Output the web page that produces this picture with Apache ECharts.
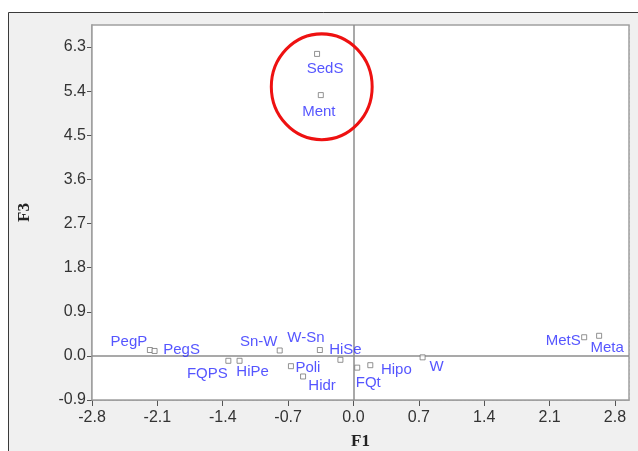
<!DOCTYPE html>
<html>
<head>
<meta charset="utf-8">
<script src="https://cdn.jsdelivr.net/npm/echarts@6/dist/echarts.min.js"></script>
<style>
  html, body { margin: 0; padding: 0; background: #ffffff; }
  #chart { width: 638px; height: 451px; }
</style>
</head>
<body>
<div id="chart"></div>
<script>
// Sample scores on factors F1 and F3
const samples = ['SedS', 'Ment', 'PegP', 'PegS', 'FQPS', 'HiPe', 'Sn-W', 'W-Sn', 'HiSe', 'Poli', 'Hidr', 'FQt', 'Hipo', 'W', 'MetS', 'Meta'];
const f1Scores = [-0.39, -0.35, -2.18, -2.13, -1.34, -1.22, -0.79, -0.36, -0.14, -0.67, -0.54, 0.04, 0.18, 0.74, 2.47, 2.63];
const f3Scores = [6.16, 5.32, 0.12, 0.10, -0.10, -0.10, 0.11, 0.12, -0.08, -0.21, -0.42, -0.24, -0.19, -0.03, 0.38, 0.41];

// Axis ranges and tick steps
const f1Range = [-2.8, 2.95];
const f1Step = 0.7;
const f3Range = [-0.9, 6.75];
const f3Step = 0.9;

// Highlighted group (ellipse centre and radii in factor units)
const groupCentre = [-0.34, 5.49];
const groupRadius = [0.54, 1.08];

// Label placement (pixel offset of each label centre from its marker)
const labelOffsets = [
  [8, 15], [-2, 17], [-21, -8], [27, -1], [-21, 13], [13, 11], [-21, -9], [-14, -12],
  [5, -10], [17, 2], [19, 9], [11, 15], [26, 5], [14, 10], [-21, 4], [8, 12]
];

const chart = echarts.init(document.getElementById('chart'));

function tickText(step) {
  return function (v) {
    const k = Math.round(v / step);
    if (Math.abs(k * step - v) > 1e-6) return '';
    return (k * step).toFixed(1);
  };
}

const points = samples.map((name, i) => ({
  name: name,
  value: [f1Scores[i], f3Scores[i]],
  label: { offset: labelOffsets[i] }
}));

chart.setOption({
  animation: false,
  backgroundColor: '#ffffff',
  grid: {
    left: 92, right: 9, top: 25, bottom: 51,
    outerBoundsMode: 'none',
    containLabel: false,
    show: true,
    backgroundColor: '#ffffff',
    borderColor: '#a0a0a0',
    borderWidth: 1.5,
    z: 1
  },
  xAxis: {
    type: 'value',
    min: f1Range[0], max: f1Range[1], interval: f1Step,
    name: 'F1',
    nameLocation: 'middle',
    nameGap: 33,
    nameTextStyle: { fontFamily: 'Liberation Serif', fontWeight: 'bold', fontSize: 17, color: '#222' },
    axisLine: { onZero: false, lineStyle: { color: '#8a8a8a', width: 1.5 } },
    axisTick: { show: true, inside: false, length: 6, lineStyle: { color: '#555', width: 1 } },
    axisLabel: {
      formatter: tickText(f1Step), showMaxLabel: false,
      fontFamily: 'Liberation Sans', fontSize: 16, color: '#333', margin: 10
    },
    splitLine: { show: true, lineStyle: { color: '#d0d0d0', type: [2, 2], width: 1 } }
  },
  yAxis: {
    type: 'value',
    min: f3Range[0], max: f3Range[1], interval: f3Step,
    name: 'F3',
    nameLocation: 'middle',
    nameGap: 59,
    nameTextStyle: { fontFamily: 'Liberation Serif', fontWeight: 'bold', fontSize: 17, color: '#222' },
    axisLine: { onZero: false, lineStyle: { color: '#8a8a8a', width: 1.5 } },
    axisTick: { show: true, inside: false, length: 5, lineStyle: { color: '#555', width: 1 } },
    axisLabel: {
      formatter: tickText(f3Step), showMaxLabel: false,
      fontFamily: 'Liberation Sans', fontSize: 16, color: '#333', margin: 6
    },
    splitLine: { show: true, lineStyle: { color: '#d0d0d0', type: [2, 2], width: 1 } }
  },
  series: [{
    type: 'scatter',
    z: 5,
    symbol: 'rect',
    symbolSize: 5,
    itemStyle: { color: '#ffffff', borderColor: '#777777', borderWidth: 1 },
    label: {
      show: true,
      position: 'inside',
      formatter: '{b}',
      fontFamily: 'Liberation Sans',
      fontSize: 15,
      color: '#2a2aff'
    },
    data: points,
    markLine: {
      silent: true,
      symbol: 'none',
      label: { show: false },
      lineStyle: { color: '#8c8c8c', type: 'solid', width: 1.5 },
      data: [{ xAxis: 0 }, { yAxis: 0 }]
    }
  }]
});

// Panel background and the highlight ellipse around the upper group
const c = chart.convertToPixel({ gridIndex: 0 }, groupCentre);
const e = chart.convertToPixel({ gridIndex: 0 }, [groupCentre[0] + groupRadius[0], groupCentre[1] + groupRadius[1]]);
const rx = Math.abs(e[0] - c[0]);
const ry = Math.abs(c[1] - e[1]);

chart.setOption({
  graphic: [
    {
      type: 'rect',
      z: -10,
      silent: true,
      shape: { x: 8.5, y: 12.5, width: 660, height: 460 },
      style: { fill: '#f0f0f0', stroke: '#3a3a3a', lineWidth: 1 }
    },
    {
      type: 'circle',
      z: 100,
      silent: true,
      x: c[0], y: c[1],
      scaleY: ry / rx,
      shape: { cx: 0, cy: 0, r: rx },
      style: { fill: 'none', stroke: '#ee1111', lineWidth: 3, strokeNoScale: true }
    }
  ]
});
</script>
</body>
</html>
